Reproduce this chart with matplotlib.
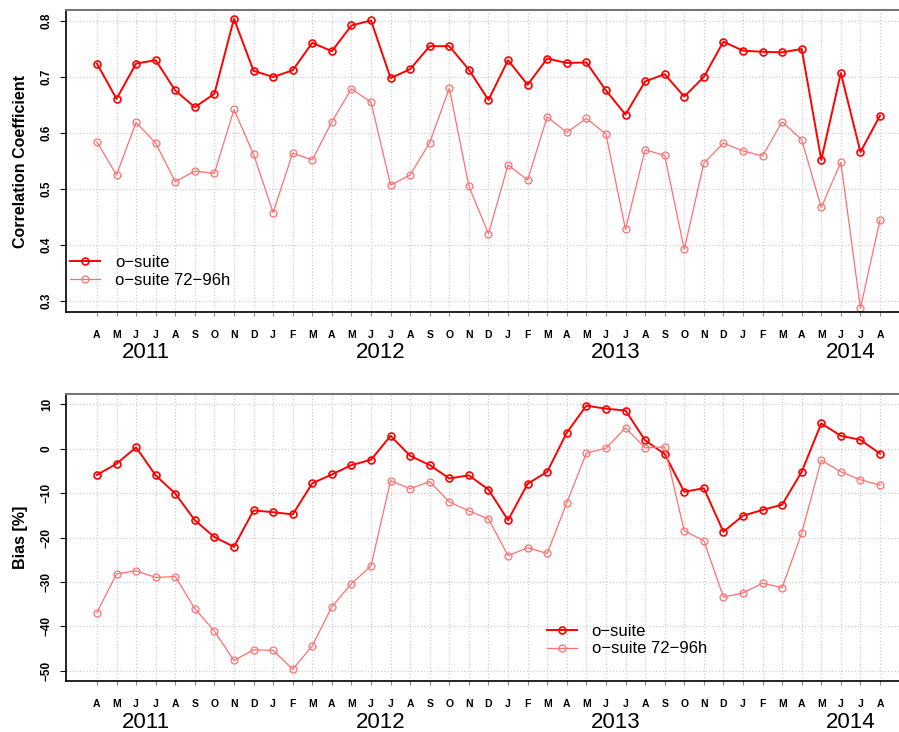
import numpy as np
import matplotlib
matplotlib.use("Agg")
import matplotlib.pyplot as plt

plt.rcParams['font.family'] = ['Liberation Sans', 'DejaVu Sans']

# months Apr 2011 .. Aug 2014
month_letters = list("AMJJASOND" + "JFMAMJJASOND" * 2 + "JFMAMJJA")
years = ["2011", "2012", "2013", "2014"]
year_pos = [2.5, 14.5, 26.5, 38.5]

corr_osuite = [0.724, 0.661, 0.724, 0.730, 0.676, 0.646, 0.670, 0.804, 0.711,
               0.700, 0.712, 0.761, 0.746, 0.792, 0.801, 0.698, 0.714, 0.755,
               0.755, 0.713, 0.659, 0.730, 0.686, 0.733, 0.725, 0.726, 0.676,
               0.633, 0.692, 0.705, 0.665, 0.700, 0.763, 0.747, 0.745, 0.744,
               0.750, 0.552, 0.707, 0.566, 0.631]
corr_72_96 = [0.584, 0.525, 0.619, 0.582, 0.513, 0.532, 0.528, 0.642, 0.562,
              0.458, 0.564, 0.552, 0.620, 0.679, 0.655, 0.507, 0.525, 0.583,
              0.680, 0.505, 0.420, 0.543, 0.516, 0.629, 0.601, 0.626, 0.598,
              0.428, 0.570, 0.560, 0.392, 0.546, 0.582, 0.568, 0.559, 0.620,
              0.588, 0.467, 0.548, 0.287, 0.445]

bias_osuite = [-5.9, -3.4, 0.3, -6.0, -10.1, -16.1, -19.9, -22.1, -13.9,
               -14.3, -14.8, -7.8, -5.8, -3.7, -2.5, 2.9, -1.6, -3.7,
               -6.7, -6.0, -9.2, -16.1, -7.9, -5.2, 3.6, 9.7, 9.0,
               8.6, 1.9, -1.2, -9.7, -8.9, -18.7, -15.1, -13.8, -12.6,
               -5.2, 5.7, 2.9, 2.0, -1.1]
bias_72_96 = [-36.9, -28.2, -27.5, -29.0, -28.8, -36.0, -41.1, -47.7, -45.3,
              -45.4, -49.7, -44.4, -35.6, -30.4, -26.4, -7.2, -9.0, -7.4,
              -12.0, -14.0, -15.8, -24.1, -22.3, -23.6, -12.2, -1.0, 0.1,
              4.7, 0.2, 0.4, -18.5, -20.7, -33.4, -32.5, -30.3, -31.3,
              -19.0, -2.6, -5.2, -7.0, -8.2]

corr_ticks = [0.3, 0.4, 0.5, 0.6, 0.7, 0.8]
bias_ticks = [-50, -40, -30, -20, -10, 0, 10]

x = np.arange(len(month_letters))

fig = plt.figure(figsize=(8.99, 7.32), dpi=100)
ax1 = fig.add_axes([66/899, 1-312/732, 833/899, 302/732])
ax2 = fig.add_axes([66/899, 1-681/732, 833/899, 287/732])


def style(ax, yticks, ylim, ylabel, year_off):
    ax.set_xlim(-1.58, 40.97)
    ax.set_ylim(*ylim)
    ax.set_xticks(x)
    ax.set_xticklabels(month_letters, fontsize=7.5, fontweight='bold')
    ax.set_yticks(yticks)
    ax.set_yticklabels([("%g" % t).replace('-', '\u2212') for t in yticks])
    ax.tick_params(axis='x', length=3, color='#888888', pad=10)
    ax.tick_params(axis='y', length=4.5, labelsize=8.5, pad=5)
    for lab in ax.get_yticklabels():
        lab.set_rotation(90)
        lab.set_va('center')
        lab.set_fontweight('bold')
    ax.grid(True, color='#cccccc', linestyle=':', linewidth=0.9)
    ax.set_axisbelow(True)
    ax.spines['right'].set_visible(False)
    ax.spines['top'].set_color('#777777')
    ax.spines['top'].set_linewidth(1.5)
    ax.spines['left'].set_linewidth(1.2)
    ax.spines['bottom'].set_linewidth(1.2)
    ax.set_ylabel(ylabel, fontsize=11.5, fontweight='bold', labelpad=9)
    for yr, xp in zip(years, year_pos):
        ax.annotate(yr, xy=(xp, 0), xycoords=('data', 'axes fraction'),
                    xytext=(0, year_off), textcoords='offset points',
                    ha='center', va='center', fontsize=16)


def draw(ax, a, b):
    ax.plot(x, a, color='#ff0000', lw=1.4, marker='o', ms=5, mfc='none',
            mew=1.2, label='o\u2212suite')
    ax.plot(x, b, color='#ff7070', lw=0.9, marker='o', ms=5, mfc='none',
            mew=0.9, label='o\u2212suite 72\u221296h')


draw(ax1, corr_osuite, corr_72_96)
style(ax1, corr_ticks, (0.2804, 0.8196), 'Correlation Coefficient', -29)
ax1.legend(loc='center left', bbox_to_anchor=(0.005, 0.134), frameon=False,
           fontsize=12, handlelength=1.8, handletextpad=0.9,
           labelspacing=0.17, borderpad=0, borderaxespad=0)

draw(ax2, bias_osuite, bias_72_96)
style(ax2, bias_ticks, (-52.32, 12.32), 'Bias [%]', -30)
ax2.legend(loc='center left', bbox_to_anchor=(0.577, 0.143), frameon=False,
           fontsize=12, handlelength=1.8, handletextpad=0.9,
           labelspacing=0.17, borderpad=0, borderaxespad=0)

fig.savefig('out.png', dpi=100)
